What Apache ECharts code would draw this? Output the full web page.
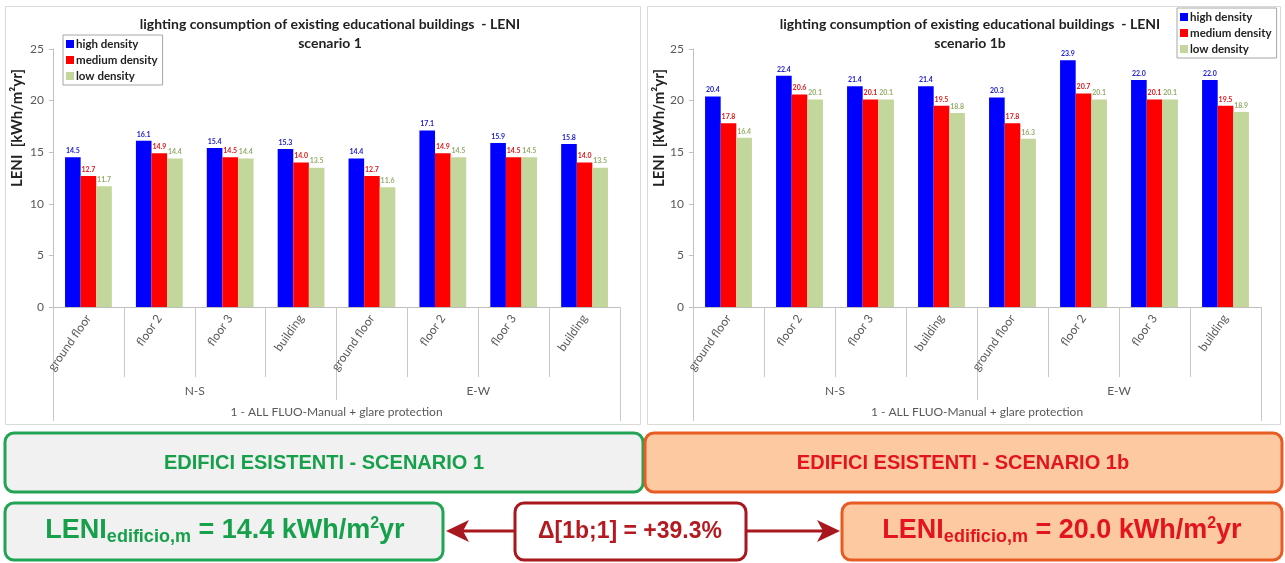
<!DOCTYPE html>
<html><head><meta charset="utf-8">
<script src="https://cdn.jsdelivr.net/npm/echarts@6/dist/echarts.min.js"></script>
<style>html,body{margin:0;padding:0;background:#fff;}#c{width:1285px;height:563px;}</style>
</head><body><div id="c"></div>
<script>
const categories = ['ground floor','floor 2','floor 3','building','ground floor','floor 2','floor 3','building'];
const groups = ['N-S','E-W'];
const caseLabel = ['1 - ALL FLUO-Manual + glare protection'];
const seriesNames = ['high density','medium density','low density'];
const s1High = [14.5,16.1,15.4,15.3,14.4,17.1,15.9,15.8];
const s1Med  = [12.7,14.9,14.5,14.0,12.7,14.9,14.5,14.0];
const s1Low  = [11.7,14.4,14.4,13.5,11.6,14.5,14.5,13.5];
const s1bHigh = [20.4,22.4,21.4,21.4,20.3,23.9,22.0,22.0];
const s1bMed  = [17.8,20.6,20.1,19.5,17.8,20.7,20.1,19.5];
const s1bLow  = [16.4,20.1,20.1,18.8,16.3,20.1,20.1,18.9];
const yTicks = [0,5,10,15,20,25];
const titles = ['lighting consumption of existing educational buildings  - LENI\nscenario 1',
                'lighting consumption of existing educational buildings  - LENI\nscenario 1b'];
const yName = 'LENI  [kWh/m²yr]';
const box1 = 'EDIFICI ESISTENTI - SCENARIO 1';
const box2 = 'EDIFICI ESISTENTI - SCENARIO 1b';
const leni1 = '14.4', leni1b = '20.0', delta = '+39.3%';

const FONT = 'Lato, "Noto Sans", sans-serif';
const colors = ['#0000ff','#ff0000','#c3d69b'];
const labelColors = ['#1a1acc','#e01a1a','#94ad6a'];

function xAxes(gi){
  return [
    {gridIndex:gi, type:'category', data:categories, position:'bottom',
     axisLine:{show:true,lineStyle:{color:'#bfbfbf'}},
     axisTick:{show:true,interval:0,length:70,lineStyle:{color:'#c8c8c8'}},
     axisLabel:{interval:0,rotate:55,margin:9,color:'#595959',fontSize:12,fontFamily:FONT}},
    {gridIndex:gi, type:'category', data:groups, position:'bottom',
     axisLine:{show:false},
     axisTick:{show:true,interval:0,length:93,lineStyle:{color:'#c8c8c8'}},
     axisLabel:{interval:0,margin:78,color:'#595959',fontSize:12,fontFamily:FONT}},
    {gridIndex:gi, type:'category', data:caseLabel, position:'bottom',
     axisLine:{show:false},
     axisTick:{show:true,interval:0,length:114,lineStyle:{color:'#c8c8c8'}},
     axisLabel:{interval:0,margin:99,color:'#595959',fontSize:12,fontFamily:FONT}}
  ];
}
function yAxis(gi){
  return {gridIndex:gi,type:'value',min:0,max:25,interval:5,
    splitLine:{show:false},
    axisLine:{show:true,lineStyle:{color:'#bfbfbf'}},
    axisTick:{show:true,length:4,lineStyle:{color:'#bfbfbf'}},
    axisLabel:{color:'#595959',fontSize:12,fontFamily:FONT,margin:9}};
}
function bars(gi, arrs){
  return arrs.map((d,i)=>({
    name:seriesNames[i], type:'bar', xAxisIndex:gi*3, yAxisIndex:gi, data:d,
    barGap:'0%', barCategoryGap:'34%',
    itemStyle:{color:colors[i]},
    label:{show:true,position:'top',distance:3,fontSize:7,fontWeight:'bold',fontFamily:FONT,color:labelColors[i],
      formatter:p=>p.value.toFixed(1)}
  }));
}
function legend(left,top){
  return {data:seriesNames, orient:'vertical', left:left, top:top, itemWidth:8, itemHeight:8, itemGap:4,
    icon:'rect', borderColor:'#a6a6a6', borderWidth:1, backgroundColor:'#fff', padding:[3,5,3,3],
    textStyle:{fontSize:11.5,fontWeight:'bold',color:'#222',fontFamily:FONT,padding:[0,0,0,-3]}};
}
function rbox(x,y,w,h,fill,stroke,lw){
  return {type:'rect',shape:{x:x,y:y,width:w,height:h,r:9},style:{fill:fill,stroke:stroke,lineWidth:lw||3},z:1};
}
function ctext(x,y,text,color,size){
  return {type:'text',x:x,y:y,z:2,style:{text:text,fill:color,font:'bold '+size+'px "Liberation Sans", Arial, sans-serif',align:'center',verticalAlign:'middle'}};
}
function leniText(x,y,val,color){
  const f='"Liberation Sans", Arial, sans-serif';
  return {type:'text',x:x,y:y,z:2,style:{
    text:'{a|LENI}{b|edificio,m}{a| = '+val+' kWh/m}{c|2}{a|yr}',
    align:'center',verticalAlign:'middle',
    rich:{
      a:{fill:color,fontSize:27,fontWeight:'bold',fontFamily:f,lineHeight:30,verticalAlign:'middle'},
      b:{fill:color,fontSize:18,fontWeight:'bold',fontFamily:f,lineHeight:18,verticalAlign:'bottom',padding:[8,0,0,0]},
      c:{fill:color,fontSize:16,fontWeight:'bold',fontFamily:f,lineHeight:16,verticalAlign:'top'}
    }}};
}
const green='#23a455', greenTxt='#17a04b', gray='#f1f1f1';
const orange='#e85b22', peach='#fcc9a1', redTxt='#e3141b';
const dark='#a8171d';

const chart = echarts.init(document.getElementById('c'),null,{renderer:'canvas'});
chart.setOption({
  animation:false,
  backgroundColor:'#fff',
  title:[
    {text:titles[0], left:325, top:10, textAlign:'center',
     textStyle:{fontSize:14,fontWeight:'bold',color:'#222',fontFamily:FONT,lineHeight:19}},
    {text:titles[1], left:965, top:10, textAlign:'center',
     textStyle:{fontSize:14,fontWeight:'bold',color:'#222',fontFamily:FONT,lineHeight:19}}
  ],
  legend:[legend(63,35), legend(1177,8)],
  grid:[
    {left:53,right:665,top:49,bottom:256,containLabel:false},
    {left:693,right:24,top:49,bottom:256,containLabel:false}
  ],
  xAxis:[...xAxes(0), ...xAxes(1)],
  yAxis:[yAxis(0), yAxis(1)],
  series:[...bars(0,[s1High,s1Med,s1Low]), ...bars(1,[s1bHigh,s1bMed,s1bLow])],
  graphic:[
    {type:'rect',shape:{x:5.5,y:6.5,width:635,height:418},style:{fill:'none',stroke:'#d9d9d9',lineWidth:1},z:0},
    {type:'rect',shape:{x:647.5,y:6.5,width:633,height:418},style:{fill:'none',stroke:'#d9d9d9',lineWidth:1},z:0},
    {type:'text',x:17,y:128,rotation:Math.PI/2,z:2,style:{text:yName,fill:'#222',font:'bold 15px '+FONT,align:'center',verticalAlign:'middle'}},
    {type:'text',x:659,y:128,rotation:Math.PI/2,z:2,style:{text:yName,fill:'#222',font:'bold 15px '+FONT,align:'center',verticalAlign:'middle'}},
    rbox(5,433,638,59,gray,green),
    ctext(324,463,box1,greenTxt,20),
    rbox(645,433,637,59,peach,orange),
    ctext(963,463,box2,redTxt,20),
    rbox(5,503,438,57,gray,green),
    leniText(225,531,leni1,greenTxt),
    rbox(515,503,231,57,'#fff',dark),
    ctext(630,532,'\u0394[1b;1] = '+delta,'#b31b21',23),
    rbox(842,503,440,57,peach,orange),
    leniText(1062,531,leni1b,redTxt),
    {type:'line',shape:{x1:514,y1:531,x2:460,y2:531},style:{stroke:dark,lineWidth:3},z:2},
    {type:'polygon',shape:{points:[[446,531],[469,520],[463,531],[469,542]]},style:{fill:dark},z:2},
    {type:'line',shape:{x1:747,y1:531,x2:826,y2:531},style:{stroke:dark,lineWidth:3},z:2},
    {type:'polygon',shape:{points:[[840,531],[817,520],[823,531],[817,542]]},style:{fill:dark},z:2}
  ]
});
</script></body></html>
